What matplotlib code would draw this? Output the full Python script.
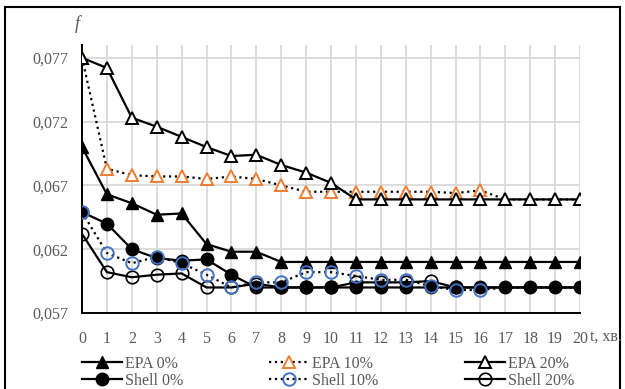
import matplotlib
matplotlib.use("Agg")
import matplotlib.pyplot as plt
from matplotlib.patches import Rectangle

plt.rcParams['font.family'] = ['Liberation Serif', 'DejaVu Serif']

# time, min
t = list(range(21))

epa_0 = [0.0700, 0.0663, 0.0656, 0.0647, 0.0648, 0.0624, 0.0618, 0.0618, 0.0610, 0.0610,
         0.0610, 0.0610, 0.0610, 0.0610, 0.0610, 0.0610, 0.0610, 0.0610, 0.0610, 0.0610, 0.0610]
epa_10 = [0.0770, 0.0683, 0.0678, 0.0677, 0.0677, 0.0675, 0.0677, 0.0675, 0.0670, 0.0665,
          0.0665, 0.0665, 0.0665, 0.0665, 0.0665, 0.0664, 0.0666, 0.0659, 0.0659, 0.0659, 0.0659]
epa_20 = [0.0770, 0.0762, 0.0723, 0.0716, 0.0708, 0.0700, 0.0693, 0.0694, 0.0686, 0.0680,
          0.0672, 0.0659, 0.0659, 0.0659, 0.0659, 0.0659, 0.0659, 0.0659, 0.0659, 0.0659, 0.0659]
shell_0 = [0.0649, 0.0640, 0.0620, 0.0613, 0.0611, 0.0612, 0.0600, 0.0590, 0.0590, 0.0590,
           0.0590, 0.0590, 0.0590, 0.0590, 0.0590, 0.0590, 0.0590, 0.0590, 0.0590, 0.0590, 0.0590]
shell_10 = [0.0649, 0.0617, 0.0609, 0.0614, 0.0609, 0.0600, 0.0590, 0.0594, 0.0594, 0.0602,
            0.0602, 0.0599, 0.0596, 0.0596, 0.0591, 0.0588, 0.0588, 0.0590, 0.0590, 0.0590, 0.0590]
shell_20 = [0.0632, 0.0602, 0.0598, 0.0600, 0.0601, 0.0590, 0.0590, 0.0593, 0.0590, 0.0590,
            0.0590, 0.0594, 0.0594, 0.0594, 0.0595, 0.0590, 0.0590, 0.0590, 0.0590, 0.0590, 0.0590]

yticks = [0.057, 0.062, 0.067, 0.072, 0.077]

orange = '#ED7D31'
blue = '#4472C4'
gray = '#595959'

fig = plt.figure(figsize=(6.25, 3.89), dpi=100)
ax = fig.add_axes([0.1312, 0.1954, 0.7968, 0.6889])

lw = 1.6
l1, = ax.plot(t, epa_0, '-', color='black', lw=lw, marker='^', ms=8,
              mfc='black', mec='black', label='EPA 0%', zorder=3)
l2, = ax.plot(t, epa_10, ':', color='black', lw=lw, marker='^', ms=8,
              mfc='white', mec=orange, mew=1.4, markevery=list(range(17)),
              label='EPA 10%', zorder=3)
l3, = ax.plot(t, epa_20, '-', color='black', lw=lw, marker='^', ms=8,
              mfc='white', mec='black', mew=1.4, label='EPA 20%', zorder=4)
l4, = ax.plot(t, shell_0, '-', color='black', lw=lw, marker='o', ms=9,
              mfc='black', mec='black', label='Shell 0%', zorder=3)
l5, = ax.plot(t, shell_10, ':', color='black', lw=lw, marker='o', ms=9,
              mfc='none', mec=blue, mew=1.4, markevery=list(range(17)),
              label='Shell 10%', zorder=4)
l6, = ax.plot(t, shell_20, '-', color='black', lw=lw, marker='o', ms=9,
              mfc='none', mec='black', mew=1.2, markevery=list(range(16)),
              label='Shell 20%', zorder=3)

ax.set_xlim(0, 20)
ax.set_ylim(0.057, 0.078)
ax.set_xticks(t)
ax.set_yticks(yticks)
ax.set_yticklabels([('%.3f' % v).replace('.', ',') for v in yticks])
ax.tick_params(length=0, labelsize=11.5, labelcolor=gray)
ax.tick_params(axis='x', pad=13)
ax.tick_params(axis='y', pad=10)
ax.grid(True, color='#d9d9d9', lw=1.3)
ax.set_axisbelow(True)
for s in ['top', 'right']:
    ax.spines[s].set_visible(False)
for s in ['left', 'bottom']:
    ax.spines[s].set_linewidth(1.4)
    ax.spines[s].set_color('black')

fig.text(0.12, 0.925, 'f', fontsize=13, style='italic', color=gray)
fig.text(0.944, 0.134, 't, хв.', fontsize=11.5, color=gray, va='center')

ax.legend(handles=[l1, l4, l2, l5, l3, l6], ncol=3, loc='upper left',
          bbox_to_anchor=(0.118, 0.106), bbox_transform=fig.transFigure,
          frameon=False, fontsize=11.5, handlelength=2.5, handletextpad=0.2,
          columnspacing=5.4, labelspacing=0.05, borderpad=0, labelcolor=gray)

# outer frame
fig.patches.append(Rectangle((0.008, -0.05), 0.984, 1.032, transform=fig.transFigure,
                             fill=False, ec='black', lw=1.5))

fig.savefig('out.png', dpi=100)
